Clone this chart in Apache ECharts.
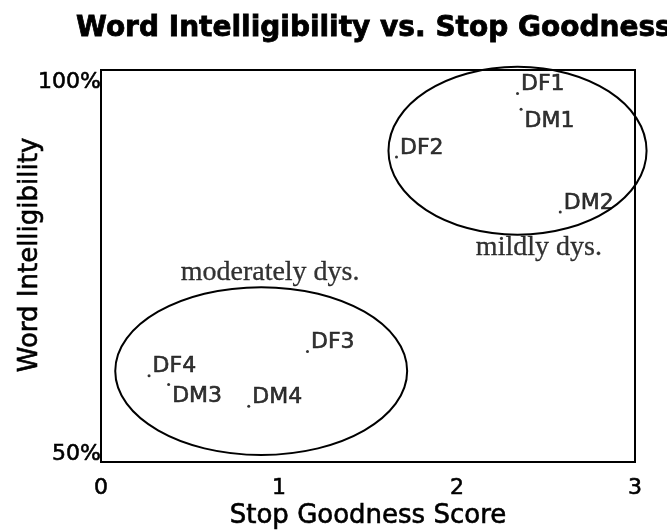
<!DOCTYPE html>
<html>
<head>
<meta charset="utf-8">
<script src="https://cdn.jsdelivr.net/npm/echarts@6/dist/echarts.min.js"></script>
<style>
  html, body { margin: 0; padding: 0; background: #fff; }
  #main { width: 667px; height: 531px; }
</style>
</head>
<body>
<div id="main"></div>
<script>
// speakers and their scores
var speakers = ['DF1', 'DM1', 'DF2', 'DM2', 'DF3', 'DF4', 'DM3', 'DM4'];
var stopScore = [2.34, 2.36, 1.66, 2.58, 1.16, 0.27, 0.38, 0.83];
var intelligibility = [97.0, 95.0, 88.9, 81.9, 64.1, 61.0, 59.9, 57.1];
// labels where the dot sits at the top-left of the text
var raisedDot = ['DM1', 'DM3'];

var xTicks = [0, 1, 2, 3];
var yTicks = ['50%', '100%'];

// group outlines: center x, center y, radius x, radius y (data units)
var groupNames = ['moderately dys.', 'mildly dys.'];
var groupCenterX = [0.90, 2.34];
var groupCenterY = [61.6, 89.7];
var groupRadiusX = [0.82, 0.725];
var groupRadiusY = [10.7, 10.7];
var groupLabelX = [0.95, 2.46];
var groupLabelY = [74.2, 77.3];

var sans = '"DejaVu Sans", sans-serif';
// slightly heavier strokes, like the scanned original
var ink = { color: '#000', textBorderColor: '#000', textBorderWidth: 0.6 };

var points = speakers.map(function (s, i) {
  var up = raisedDot.indexOf(s) >= 0;
  return {
    name: s,
    value: [stopScore[i], intelligibility[i]],
    label: { offset: [0, up ? 12 : -9] }
  };
});

var ellipses = groupNames.map(function (g, i) {
  return [groupCenterX[i], groupCenterY[i], groupRadiusX[i], groupRadiusY[i]];
});

var groupLabels = groupNames.map(function (g, i) {
  return { name: g, value: [groupLabelX[i], groupLabelY[i]] };
});

var myChart = echarts.init(document.getElementById('main'));

var option = {
  backgroundColor: '#fff',
  animation: false,
  title: {
    text: 'Word Intelligibility vs. Stop Goodness',
    left: 71,
    top: 10,
    textStyle: Object.assign({ fontFamily: sans, fontWeight: 'bold', fontSize: 28 }, ink, { textBorderWidth: 0.8 })
  },
  grid: {
    left: 101, right: 32, top: 70, bottom: 69,
    outerBoundsMode: 'none',
    containLabel: false,
    show: true, borderColor: '#000', borderWidth: 2
  },
  xAxis: {
    type: 'value',
    min: 0, max: 3, interval: 1,
    name: 'Stop Goodness Score',
    nameLocation: 'middle',
    nameGap: 41,
    nameMoveOverlap: false,
    nameTextStyle: Object.assign({ fontFamily: sans, fontSize: 26 }, ink),
    axisLine: { lineStyle: { color: '#000', width: 2 } },
    axisTick: { show: false },
    splitLine: { show: false },
    axisLabel: Object.assign({
      margin: 15,
      fontFamily: sans, fontSize: 22,
      formatter: function (v) { return String(xTicks[v]); }
    }, ink)
  },
  yAxis: {
    type: 'value',
    min: 50, max: 100, interval: 50,
    name: 'Word Intelligibility',
    nameLocation: 'middle',
    nameGap: 58,
    nameRotate: 90,
    nameMoveOverlap: false,
    nameTextStyle: Object.assign({ fontFamily: sans, fontSize: 26, padding: [0, 0, 0, 22] }, ink),
    axisLine: { lineStyle: { color: '#000', width: 2 } },
    axisTick: { show: false },
    splitLine: { show: false },
    axisLabel: {
      margin: 0,
      fontFamily: sans, fontSize: 22, color: '#000',
      formatter: function (v) {
        return v === 100 ? '{hi|' + yTicks[1] + '}' : '{lo|' + yTicks[0] + '}';
      },
      rich: {
        hi: Object.assign({ fontFamily: sans, fontSize: 22, padding: [24, 0, 0, 0] }, ink),
        lo: Object.assign({ fontFamily: sans, fontSize: 22, padding: [0, 0, 16, 0] }, ink)
      }
    }
  },
  series: [
    {
      type: 'custom',
      clip: false,
      silent: true,
      renderItem: function (params, api) {
        var c = api.coord([api.value(0), api.value(1)]);
        var s = api.size([api.value(2), api.value(3)]);
        return {
          type: 'ellipse',
          shape: { cx: c[0], cy: c[1], rx: s[0], ry: s[1] },
          style: { fill: 'none', stroke: '#000', lineWidth: 2 }
        };
      },
      data: ellipses
    },
    {
      type: 'scatter',
      symbol: 'circle',
      symbolSize: 3,
      itemStyle: { color: '#000' },
      label: Object.assign({
        show: true,
        position: 'right',
        distance: 2,
        formatter: '{b}',
        fontFamily: sans, fontSize: 22
      }, ink),
      data: points
    },
    {
      type: 'scatter',
      symbolSize: 0,
      silent: true,
      label: Object.assign({
        show: true,
        position: 'inside',
        formatter: '{b}',
        fontFamily: '"Liberation Serif", serif', fontSize: 28
      }, ink, { textBorderWidth: 0.3 }),
      data: groupLabels
    }
  ]
};

myChart.setOption(option);
window.onresize = function () {
  myChart.resize();
};
</script>
</body>
</html>
